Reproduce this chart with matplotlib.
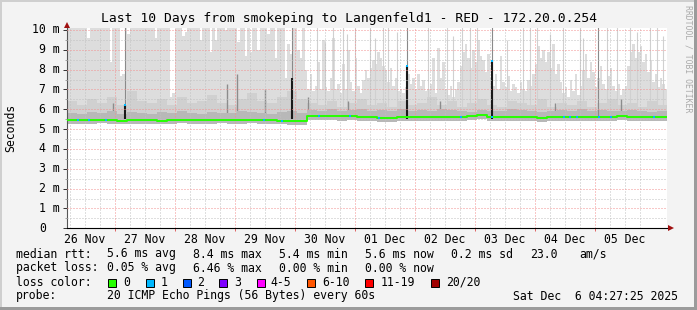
import numpy as np
import matplotlib.pyplot as plt
from matplotlib.patches import Rectangle

# time axis: hours counted from 26 Nov 00:00, graph covers 10 days
t_start, t_end = 5, 245

# upper edge of the smoke, one value per hour (ms)
smoke_top = [
    10.5, 10.5, 10.5, 10.5, 10.5, 10.5, 10.5, 10.5, 9.6, 10.5, 10.5, 10.5, 10.5, 10.5, 10.5, 10.5, 10.5, 8.4, 10.5, 10.5, 10.5, 7.7, 7.8, 10.5,
    9.8, 10.5, 10.5, 10.5, 10.5, 10.5, 10.5, 10.5, 10.5, 10.5, 10.5, 9.6, 10.5, 10.5, 10.5, 10.5, 10.5, 6.6, 6.8, 10.5, 10.5, 10.5, 9.7, 9.9,
    10.5, 10.5, 10.5, 10.5, 10.5, 9.5, 10.5, 10.5, 10.5, 8.9, 10.5, 9.5, 10.5, 10.5, 10.5, 10.0, 10.5, 10.5, 10.5, 10.5, 9.4, 10.5, 10.5, 8.7,
    10.5, 8.9, 10.5, 10.5, 9.0, 10.5, 10.5, 10.5, 9.8, 10.5, 10.5, 8.6, 10.5, 10.5, 10.5, 7.6, 9.3, 8.8, 10.5, 10.5, 9.0, 8.6, 10.5, 8.0,
    7.0, 7.8, 6.9, 7.2, 8.4, 7.0, 9.5, 7.1, 6.9, 7.6, 9.6, 7.0, 7.3, 6.8, 8.3, 7.0, 9.0, 7.4, 6.9, 8.6, 7.2, 6.8, 7.5, 8.0,
    7.6, 8.1, 8.5, 8.3, 8.9, 8.6, 8.2, 8.0, 7.4, 8.1, 7.2, 7.6, 6.9, 7.0, 6.8, 7.1, 7.8, 7.3, 7.6, 7.0, 7.8, 7.2, 7.5, 6.9,
    7.0, 7.3, 8.6, 6.8, 9.1, 7.6, 8.4, 7.0, 6.7, 7.2, 6.6, 7.0, 7.4, 8.2, 8.9, 9.3, 8.6, 8.1, 9.0, 8.4, 9.5, 8.7, 8.5, 7.9,
    8.8, 7.6, 7.2, 7.8, 7.0, 8.7, 7.4, 7.1, 7.7, 6.9, 7.3, 7.1, 6.8, 7.4, 7.0, 6.9, 7.5, 7.2, 7.8, 8.3, 9.2, 8.6, 9.0, 8.4,
    8.9, 8.1, 9.3, 7.8, 8.3, 7.4, 6.8, 7.1, 6.6, 7.5, 6.9, 7.8, 6.7, 7.2, 8.0, 8.8, 7.6, 8.4, 7.9, 7.1, 7.6, 8.2, 7.3, 7.0,
    7.7, 8.1, 7.2, 6.9, 7.3, 6.7, 7.0, 7.2, 8.2, 8.9, 9.3, 8.6, 8.9, 9.2, 8.4, 8.8, 7.9, 8.5, 7.4, 7.8, 7.1, 7.6, 7.3, 7.0,
]

# 4-hourly values (ms)
smoke_mid = [
    6.4, 6.2, 6.5, 6.3, 6.6, 6.2, 6.9, 6.4, 6.3, 6.5, 6.2, 6.6, 6.3, 6.4, 6.7, 6.3, 6.2, 6.5, 6.8, 6.4, 6.3, 6.6, 6.9, 6.5,
    6.3, 6.2, 6.4, 6.1, 6.3, 6.5, 6.2, 6.3, 6.1, 6.4, 6.2, 6.3, 6.6, 6.2, 6.4, 6.1, 6.3, 6.5, 6.2, 6.1, 6.4, 6.3, 6.2, 6.5,
    6.1, 6.3, 6.2, 6.4, 6.1, 6.3, 6.5, 6.2, 6.3, 6.1, 6.4, 6.2,
]
smoke_dark = [
    5.8, 5.75, 5.85, 5.8, 5.9, 5.75, 5.85, 5.8, 5.75, 5.85, 5.8, 5.9, 5.8, 5.75, 5.85, 5.8, 5.8, 5.9, 5.85, 5.8, 5.75, 5.85, 5.9, 5.8,
    5.95, 5.9, 6.0, 5.9, 5.95, 6.0, 5.9, 5.95, 5.9, 6.0, 5.9, 5.95, 5.9, 6.0, 5.95, 5.9, 5.85, 5.95, 5.9, 5.9, 6.0, 5.95, 5.9, 5.85,
    5.9, 5.95, 5.9, 6.0, 5.9, 5.95, 5.9, 5.9, 5.95, 5.9, 5.85, 5.9,
]
smoke_low = [
    5.28, 5.27, 5.26, 5.29, 5.27, 5.25, 5.28, 5.27, 5.26, 5.24, 5.27, 5.29, 5.28, 5.26, 5.27, 5.29, 5.28, 5.27, 5.29, 5.28, 5.26, 5.24, 5.22, 5.23,
    5.45, 5.46, 5.44, 5.43, 5.45, 5.42, 5.40, 5.38, 5.37, 5.40, 5.41, 5.40, 5.39, 5.42, 5.40, 5.41, 5.47, 5.49, 5.42, 5.40, 5.39, 5.41, 5.40, 5.38,
    5.42, 5.43, 5.40, 5.39, 5.41, 5.40, 5.42, 5.44, 5.40, 5.39, 5.41, 5.40,
]
median_rtt = [
    5.46, 5.45, 5.44, 5.47, 5.45, 5.43, 5.46, 5.45, 5.44, 5.42, 5.45, 5.47, 5.46, 5.44, 5.45, 5.47, 5.46, 5.45, 5.47, 5.46, 5.44, 5.42, 5.40, 5.41,
    5.66, 5.67, 5.65, 5.64, 5.66, 5.63, 5.60, 5.58, 5.57, 5.60, 5.61, 5.60, 5.59, 5.62, 5.60, 5.61, 5.68, 5.70, 5.62, 5.60, 5.59, 5.61, 5.60, 5.58,
    5.62, 5.63, 5.60, 5.59, 5.61, 5.60, 5.62, 5.64, 5.60, 5.59, 5.61, 5.60,
]

# single-step outliers reaching far up (hour, ms)
outlier_hours = [105.0, 108.2, 111.4, 115.4, 117.0, 120.2, 126.2, 128.2, 131.4, 133.4, 137.0, 149.4, 157.0, 159.4, 163.0, 166.2,
                 169.0, 181.0, 187.4, 190.2, 193.0, 198.2, 203.4, 210.2, 211.4, 220.8, 224.8, 230.2, 233.0, 238.2, 241.0, 243.4]
outlier_tops = [10.5, 9.4, 10.5, 10.5, 9.8, 10.5, 10.5, 9.6, 10.5, 10.5, 9.9, 10.5, 10.5, 9.7, 10.5, 10.5,
                10.5, 9.5, 10.5, 10.5, 10.5, 9.8, 10.5, 10.5, 9.6, 10.5, 10.5, 10.5, 9.9, 10.5, 10.5, 9.7]

# steps where all pings were slow
black_hours = [28.1, 94.8, 141.0, 175.0]
black_tops = [6.2, 7.6, 8.2, 8.45]
dark_line_hours = [28.1, 94.8, 141.0, 175.0, 217.4]
gray_spike_hours = [23.4, 69.0, 73.0, 84.0, 101.4, 117.4, 154.0, 200.0, 226.6]
gray_spike_tops = [6.3, 7.3, 7.8, 7.0, 6.6, 6.4, 6.4, 6.3, 6.5]

# steps with 1 lost ping
loss1_hours = [9.4, 13.8, 20.5, 83.8, 91.0, 105.8, 118.2, 129.8, 162.6, 175.0, 203.8, 206.2, 209.0, 217.8, 222.6, 239.8]

day_labels = ['26 Nov', '27 Nov', '28 Nov', '29 Nov', '30 Nov', '01 Dec', '02 Dec', '03 Dec', '04 Dec', '05 Dec']
y_labels = ['0', '1 m', '2 m', '3 m', '4 m', '5 m', '6 m', '7 m', '8 m', '9 m', '10 m']

loss_names = ['0', '1', '2', '3', '4-5', '6-10', '11-19', '20/20']
loss_colors = ['#26ff00', '#00b8ff', '#0059ff', '#7e00ff', '#ff00ff', '#ff5500', '#ff0000', '#a10000']

W, H = 697, 310
mono = 'DejaVu Sans Mono'
plt.rcParams['font.family'] = mono

fig = plt.figure(figsize=(W / 100, H / 100), dpi=100, facecolor='#f3f3f3')
ax = fig.add_axes([67 / W, 1 - 228.3 / H, 600 / W, 200.3 / H])
ax.set_facecolor('white')

hour_edges = np.arange(t_start, t_end + 1)
bin_edges = np.arange(t_start, t_end + 1, 4)
low_hourly = np.repeat(smoke_low, 4)


def stepfill(x, lo, hi, color, z):
    lo = np.append(lo, lo[-1])
    hi = np.append(hi, hi[-1])
    ax.fill_between(x, lo, hi, step='post', color=color, lw=0, zorder=z)


stepfill(hour_edges, low_hourly, np.array(smoke_top), '#dddddd', 1)
ax.vlines(outlier_hours, 6.0, outlier_tops, color='#d0d0d0', lw=0.8, zorder=1.1)
stepfill(bin_edges, np.array(smoke_low), np.array(smoke_mid), '#d0d0d0', 1.2)
ax.vlines(gray_spike_hours, 5.6, gray_spike_tops, color='#8c8c8c', lw=1.0, zorder=1.3)
stepfill(bin_edges, np.array(smoke_low), np.array(smoke_dark), '#b8b8b8', 1.4)
ax.vlines(dark_line_hours, 5.6, 10.5, color='#8a8a8a', lw=0.8, zorder=1.5)
ax.vlines(black_hours, 5.5, black_tops, color='#1a1a1a', lw=1.5, zorder=1.6)

# grid on top of the smoke
for d in range(1, 10):
    ax.axvline(24 * d, color='#f29090', lw=0.72, ls=(0, (1, 2)), zorder=3)
for q in range(6, 245, 6):
    if q % 24:
        ax.axvline(q, color='#c0c0c0', lw=0.72, ls=(0, (1, 2)), zorder=2.9)
for m in range(1, 11):
    ax.axhline(m, color='#f29090', lw=0.72, ls=(0, (1, 2)), zorder=3)
    ax.axhline(m - 0.5, color='#c0c0c0', lw=0.72, ls=(0, (1, 2)), zorder=2.9)

med = np.append(median_rtt, median_rtt[-1])
ax.step(bin_edges, med, where='post', color='#26ff00', lw=1.4, zorder=4)
idx = ((np.array(loss1_hours) - t_start) // 4).astype(int)
ax.plot(loss1_hours, np.array(median_rtt)[idx], ls='none', marker='s', ms=2.0, mew=0,
        color='#00b8ff', zorder=5)
ax.plot(black_hours[:1] + black_hours[2:], black_tops[:1] + black_tops[2:], ls='none', marker='s',
        ms=2.0, mew=0, color='#00b8ff', zorder=5)

ax.set_xlim(t_start, t_end)
ax.set_ylim(0, 10.1)
for s in ['top', 'right']:
    ax.spines[s].set_visible(False)
ax.spines['left'].set_color('#555555')
ax.spines['left'].set_linewidth(0.8)
ax.spines['bottom'].set_color('black')
ax.spines['bottom'].set_linewidth(0.8)
ax.spines['bottom'].set_bounds(t_start, t_end + 1.2)

# axis arrows
ax.plot([t_end + 1.6], [0], marker='>', ms=4.5, mew=0, color='#a01010', clip_on=False, zorder=6)
ax.plot([t_start], [10.25], marker='^', ms=4.5, mew=0, color='#a01010', clip_on=False, zorder=6)

# y labels: units column right-aligned, the bare "0" sits in the digit column
ax.set_yticks(range(11), [''] * 11)
ax.set_yticks(np.arange(0.5, 10, 1), minor=True)
ax.tick_params(axis='y', which='major', length=3, width=0.7, color='#333333')
ax.tick_params(axis='y', which='minor', length=1.5, width=0.6, color='#999999')
ylab_tr = ax.get_yaxis_transform()
for v, s in zip(range(11), y_labels):
    xr = -7 / 600 if s != '0' else -20.5 / 600
    ax.text(xr, v, s, transform=ylab_tr, ha='right', va='center', fontsize=8.3)

ax.set_xticks([12 + 24 * d for d in range(10)], day_labels)
ax.set_xticks([24 * d for d in range(1, 10)], minor=True)
ax.tick_params(axis='x', which='major', length=0, pad=3.5, labelsize=8.3)
ax.tick_params(axis='x', which='minor', length=2.5, width=0.7, color='#e06060')

fig.text(349 / W, 1 - 18.5 / H, 'Last 10 Days from smokeping to Langenfeld1 - RED - 172.20.0.254',
         ha='center', va='center', fontsize=9.4)
fig.text(11 / W, 1 - 128 / H, 'Seconds', rotation=90, ha='center', va='center', fontsize=8.3)
fig.text(688 / W, 1 - 59 / H, 'RRDTOOL / TOBI OETIKER', rotation=270, ha='center', va='center',
         fontsize=5.9, color='#aaaaaa')


def ftext(x, y, s):
    fig.text(x / W, 1 - y / H, s, ha='left', va='center', fontsize=8.3)


ftext(16, 254, 'median rtt:')
for x, s in zip([107.3, 193.3, 279.3, 365.3, 451.3, 530.3, 579.3],
                ['5.6 ms avg', '8.4 ms max', '5.4 ms min', '5.6 ms now', '0.2 ms sd', '23.0', 'am/s']):
    ftext(x, 254, s)
ftext(16, 268, 'packet loss:')
for x, s in zip([107.3, 193.3, 279.3, 365.3], ['0.05 % avg', '6.46 % max', '0.00 % min', '0.00 % now']):
    ftext(x, 268, s)
ftext(16, 282, 'loss color:')
box_x = [108.3, 145.7, 182.7, 219.3, 256.7, 307.3, 365.3, 430.7]
lab_x = [123.3, 161.0, 197.0, 234.7, 270.7, 322.0, 380.7, 445.7]
for bx, lx, name, c in zip(box_x, lab_x, loss_names, loss_colors):
    fig.patches.append(Rectangle((bx / W, 1 - 286.5 / H), 8 / W, 8 / H, transform=fig.transFigure,
                                 facecolor=c, edgecolor='black', lw=0.7))
    ftext(lx, 282, name)
ftext(16, 296, 'probe:')
ftext(107.3, 296, '20 ICMP Echo Pings (56 Bytes) every 60s')
ftext(513.3, 296, 'Sat Dec  6 04:27:25 2025')

# image frame
fig.patches.append(Rectangle((0, 1 - 2 / H), 1, 2 / H, transform=fig.transFigure, color='#cfcfcf', lw=0))
fig.patches.append(Rectangle((0, 0), 2 / W, 1, transform=fig.transFigure, color='#cfcfcf', lw=0))
fig.patches.append(Rectangle((0, 0), 1, 3 / H, transform=fig.transFigure, color='#9b9b9b', lw=0))
fig.patches.append(Rectangle((1 - 3 / W, 0), 3 / W, 1, transform=fig.transFigure, color='#9b9b9b', lw=0))

fig.savefig('out.png', dpi=100, facecolor=fig.get_facecolor())
